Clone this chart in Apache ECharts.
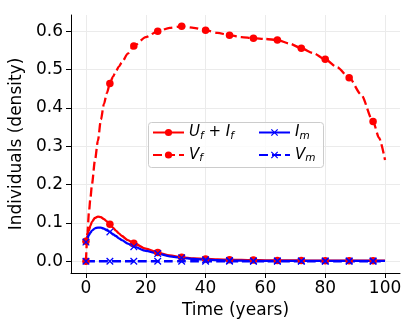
<!DOCTYPE html>
<html>
<head>
<meta charset="utf-8">
<script src="https://cdn.jsdelivr.net/npm/echarts@6/dist/echarts.min.js"></script>
<style>
  html, body { margin: 0; padding: 0; background: #fff; }
  #main { width: 415px; height: 332px; }
</style>
</head>
<body>
<div id="main"></div>
<script>
// time points (years)
var time = [0, 0.5, 1, 1.5, 2, 3, 4, 5, 6, 7, 8, 9, 10, 11, 12, 14, 16, 20, 24, 28, 32, 36, 40, 44, 48, 52, 56, 60, 64, 68, 72, 76, 80, 84, 88, 92, 96, 98, 100];
// U_f + I_f
var ufIf = [0.052, 0.067, 0.081, 0.093, 0.103, 0.113, 0.1166, 0.115, 0.110, 0.104, 0.0965, 0.088, 0.080, 0.073, 0.066, 0.055, 0.047, 0.033, 0.0226, 0.015, 0.0104, 0.0075, 0.006, 0.005, 0.004, 0.0035, 0.003, 0.0025, 0.002, 0.002, 0.002, 0.0015, 0.0015, 0.0015, 0.0015, 0.0015, 0.0015, 0.0015, 0.0015];
// V_f
var vf = [0, 0.075, 0.128, 0.165, 0.2, 0.263, 0.315, 0.37, 0.41, 0.439, 0.464, 0.481, 0.496, 0.508, 0.519, 0.542, 0.5617, 0.585, 0.600, 0.609, 0.613, 0.609, 0.603, 0.596, 0.590, 0.585, 0.582, 0.580, 0.5774, 0.568, 0.556, 0.543, 0.527, 0.506, 0.479, 0.435, 0.3645, 0.322, 0.264];
// I_m
var im = [0.050, 0.060, 0.068, 0.075, 0.080, 0.086, 0.088, 0.088, 0.085, 0.081, 0.0765, 0.071, 0.066, 0.060, 0.055, 0.046, 0.038, 0.027, 0.020, 0.013, 0.009, 0.006, 0.004, 0.003, 0.002, 0.0015, 0.001, 0.001, 0.001, 0.001, 0.001, 0.001, 0.001, 0.001, 0.001, 0.001, 0.001, 0.001, 0.001];
// V_m
var vm = [0, 0, 0, 0, 0, 0, 0, 0, 0, 0, 0, 0, 0, 0, 0, 0, 0, 0, 0, 0, 0, 0, 0, 0, 0, 0, 0, 0, 0, 0, 0, 0, 0, 0, 0, 0, 0, 0, 0];

var xTicks = [0, 20, 40, 60, 80, 100];
var yTicks = [0, 0.1, 0.2, 0.3, 0.4, 0.5, 0.6];
var markEvery = 8;

var FONT = 'DejaVu Sans';
var RED = '#ff0000';
var BLUE = '#0000ff';
var CROSS = 'path://M0,1.2 L1.2,0 L5,3.8 L8.8,0 L10,1.2 L6.2,5 L10,8.8 L8.8,10 L5,6.2 L1.2,10 L0,8.8 L3.8,5 Z';

function buildData(values) {
    return time.map(function (t, i) {
        if (t % markEvery === 0) {
            return [t, values[i]];
        }
        return { value: [t, values[i]], symbol: 'none' };
    });
}

function lineSeries(name, values, color, dashed, symbol) {
    return {
        name: name,
        type: 'line',
        data: buildData(values),
        smooth: 0.25,
        smoothMonotone: 'x',
        showSymbol: true,
        symbol: symbol,
        symbolSize: 7.5,
        color: color,
        lineStyle: { color: color, width: 2.3, type: dashed ? [9, 4] : 'solid' },
        itemStyle: { color: color },
        emphasis: { disabled: true },
        animation: false
    };
}

var rich = {
    i: { fontFamily: FONT, fontStyle: 'italic', fontSize: 15, lineHeight: 18, color: '#000' },
    n: { fontFamily: FONT, fontSize: 15, lineHeight: 18, color: '#000' },
    s: { fontFamily: FONT, fontStyle: 'italic', fontSize: 10.5, lineHeight: 8, verticalAlign: 'bottom', color: '#000' }
};
var legendText = {
    'Uf+If': '{i|U}{s|f}{n| + }{i|I}{s|f}',
    'Vf': '{i|V}{s|f}',
    'Im': '{i|I}{s|m}',
    'Vm': '{i|V}{s|m}'
};

function legendBox(left, names) {
    return {
        data: names,
        orient: 'vertical',
        left: left,
        top: 125,
        itemWidth: 31,
        itemHeight: 9,
        itemGap: 6,
        padding: 0,
        formatter: function (name) { return legendText[name]; },
        textStyle: { rich: rich },
        selectedMode: false
    };
}

var chart = echarts.init(document.getElementById('main'));
var option = {
    backgroundColor: '#fff',
    animation: false,
    grid: { left: 71, right: 15, top: 15, bottom: 59, containLabel: false },
    graphic: [{
        type: 'rect',
        left: 148,
        top: 122,
        z: 3,
        shape: { width: 175, height: 45, r: 3 },
        style: { fill: 'rgba(255,255,255,0.8)', stroke: '#cccccc', lineWidth: 1 }
    }],
    legend: [
        legendBox(152, ['Uf+If', 'Vf']),
        legendBox(258, ['Im', 'Vm'])
    ],
    xAxis: {
        type: 'value',
        min: -5,
        max: 105,
        name: 'Time (years)',
        nameLocation: 'middle',
        nameGap: 27,
        nameTextStyle: { fontFamily: FONT, fontSize: 17, color: '#000' },
        axisLine: { show: true, onZero: false, lineStyle: { color: '#000', width: 1 } },
        axisTick: { show: true, length: 5, inside: false, customValues: xTicks, lineStyle: { color: '#000' } },
        axisLabel: { customValues: xTicks, fontFamily: FONT, fontSize: 17, color: '#000', margin: 7 },
        splitLine: { show: true, lineStyle: { color: '#ebebeb', width: 1 } }
    },
    yAxis: {
        type: 'value',
        min: -0.0306,
        max: 0.6426,
        name: 'Individuals (density)',
        nameLocation: 'middle',
        nameGap: 33,
        nameTextStyle: { fontFamily: FONT, fontSize: 17, color: '#000' },
        axisLine: { show: true, onZero: false, lineStyle: { color: '#000', width: 1 } },
        axisTick: { show: true, length: 5, inside: false, customValues: yTicks, lineStyle: { color: '#000' } },
        axisLabel: {
            customValues: yTicks, fontFamily: FONT, fontSize: 17, color: '#000', margin: 8,
            formatter: function (v) { return v.toFixed(1); }
        },
        splitLine: { show: true, lineStyle: { color: '#ebebeb', width: 1 } }
    },
    series: [
        lineSeries('Uf+If', ufIf, RED, false, 'circle'),
        lineSeries('Vf', vf, RED, true, 'circle'),
        lineSeries('Im', im, BLUE, false, CROSS),
        lineSeries('Vm', vm, BLUE, true, CROSS)
    ]
};
chart.setOption(option);
</script>
</body>
</html>
